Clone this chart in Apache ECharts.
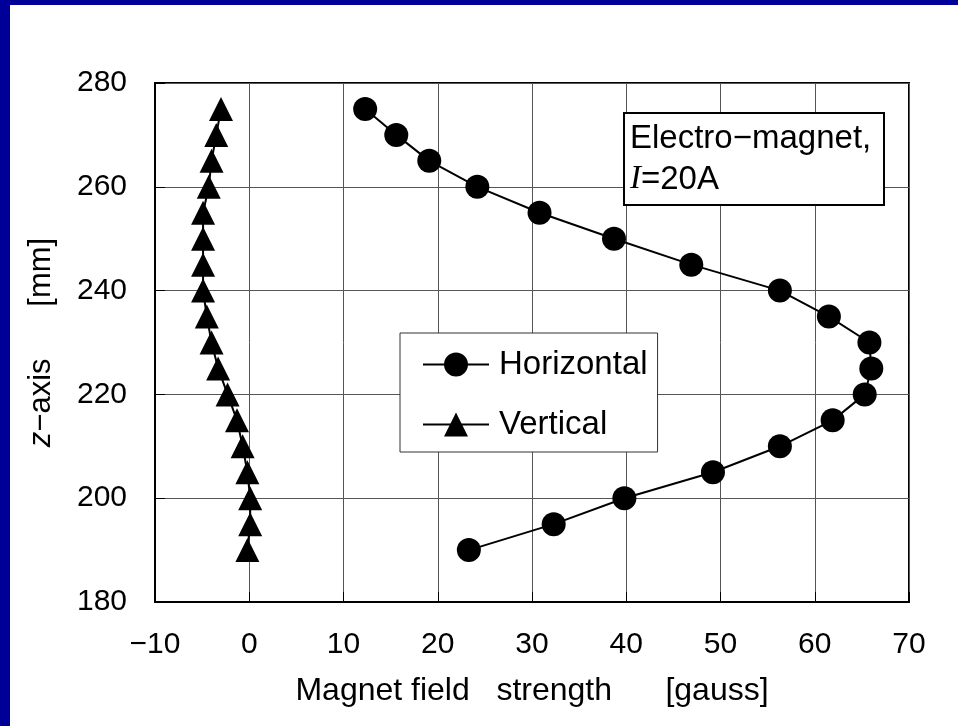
<!DOCTYPE html>
<html>
<head>
<meta charset="utf-8">
<script src="https://cdn.jsdelivr.net/npm/echarts@6/dist/echarts.min.js"></script>
<style>
  html, body { margin: 0; padding: 0; background: #fff; }
  #wrap { position: relative; width: 958px; height: 726px; overflow: hidden; }
  #chart { position: absolute; left: 0; top: 0; width: 958px; height: 726px; }
  .edge { position: absolute; background: #000099; }
</style>
</head>
<body>
<div id="wrap">
  <div id="chart"></div>
  <div class="edge" style="left:0;top:0;width:10px;height:726px;"></div>
  <div class="edge" style="left:0;top:0;width:958px;height:5px;"></div>
</div>
<script>
// Position along the z-axis [mm]
const zPositions = [275, 270, 265, 260, 255, 250, 245, 240, 235, 230, 225, 220, 215, 210, 205, 200, 195, 190];
// Field strength [gauss]
const horizontalField = [12.3, 15.6, 19.1, 24.2, 30.8, 38.7, 46.9, 56.3, 61.5, 65.8, 66.0, 65.3, 61.9, 56.3, 49.2, 39.8, 32.3, 23.3];
const verticalField = [-3.0, -3.5, -4.0, -4.3, -4.9, -4.9, -4.9, -4.9, -4.5, -4.0, -3.3, -2.3, -1.3, -0.7, -0.2, 0.1, 0.1, -0.2];
const seriesNames = ['Horizontal', 'Vertical'];
const xTicks = [-10, 0, 10, 20, 30, 40, 50, 60, 70];
const yTicks = [180, 200, 220, 240, 260, 280];

const FONT = '"Liberation Sans", Arial, sans-serif';
const pairs = (vals) => vals.map((v, i) => [v, zPositions[i]]);
const minus = (v) => String(v).replace('-', '\u2212');

const chart = echarts.init(document.getElementById('chart'), null, { renderer: 'canvas' });

chart.setOption({
  animation: false,
  backgroundColor: '#fff',
  textStyle: { fontFamily: FONT, color: '#000' },
  grid: {
    left: 155, right: 49, top: 83, bottom: 124,
    show: true, borderColor: '#000', borderWidth: 2, backgroundColor: 'transparent'
  },
  title: {
    text: 'Electro\u2212magnet,\n{i|I}=20A',
    left: 624, top: 113,
    borderColor: '#000', borderWidth: 2, backgroundColor: '#fff',
    padding: [5, 13, 5, 6],
    textStyle: {
      fontFamily: FONT, fontSize: 33, fontWeight: 'normal', color: '#000', lineHeight: 41,
      rich: {
        i: { fontFamily: '"Liberation Serif", "DejaVu Serif", serif', fontStyle: 'italic', fontSize: 33, lineHeight: 41 }
      }
    }
  },
  legend: {
    data: seriesNames,
    orient: 'vertical',
    left: 400, top: 333,
    backgroundColor: '#fff',
    borderColor: '#333', borderWidth: 1,
    padding: [15, 10, 11, 22],
    itemWidth: 66, itemHeight: 30, itemGap: 27,
    textStyle: { fontFamily: FONT, fontSize: 33, color: '#000', padding: [0, 0, 0, 5] }
  },
  xAxis: {
    type: 'value',
    min: xTicks[0], max: xTicks[xTicks.length - 1], interval: 10,
    name: 'Magnet field   strength      [gauss]',
    nameLocation: 'middle', nameGap: 73,
    nameTextStyle: { fontFamily: FONT, fontSize: 32, color: '#000' },
    axisLine: { show: true, onZero: false, lineStyle: { color: '#000', width: 2 } },
    axisTick: { show: true, inside: true, length: 10, lineStyle: { color: '#000', width: 1 } },
    axisLabel: { fontFamily: FONT, fontSize: 30, color: '#000', margin: 28, formatter: minus },
    splitLine: { show: true, lineStyle: { color: '#555', width: 1 } }
  },
  yAxis: {
    type: 'value',
    min: yTicks[0], max: yTicks[yTicks.length - 1], interval: 20,
    name: '{i|z}\u2212axis      [mm]',
    nameLocation: 'middle', nameGap: 98, nameRotate: 90,
    nameTextStyle: {
      fontFamily: FONT, fontSize: 31, color: '#000',
      rich: { i: { fontFamily: FONT, fontStyle: 'italic', fontSize: 31 } }
    },
    axisLine: { show: true, onZero: false, lineStyle: { color: '#000', width: 2 } },
    axisTick: { show: true, inside: true, length: 10, lineStyle: { color: '#000', width: 1 } },
    axisLabel: { fontFamily: FONT, fontSize: 30, color: '#000', margin: 28 },
    splitLine: { show: true, lineStyle: { color: '#555', width: 1 } }
  },
  series: [
    {
      name: seriesNames[0], type: 'line', data: pairs(horizontalField),
      symbol: 'circle', symbolSize: 24,
      itemStyle: { color: '#000' },
      lineStyle: { color: '#000', width: 2 },
      z: 3
    },
    {
      name: seriesNames[1], type: 'line', data: pairs(verticalField),
      symbol: 'triangle', symbolSize: 24,
      itemStyle: { color: '#000' },
      lineStyle: { color: '#000', width: 2 },
      z: 3
    }
  ]
});
</script>
</body>
</html>
